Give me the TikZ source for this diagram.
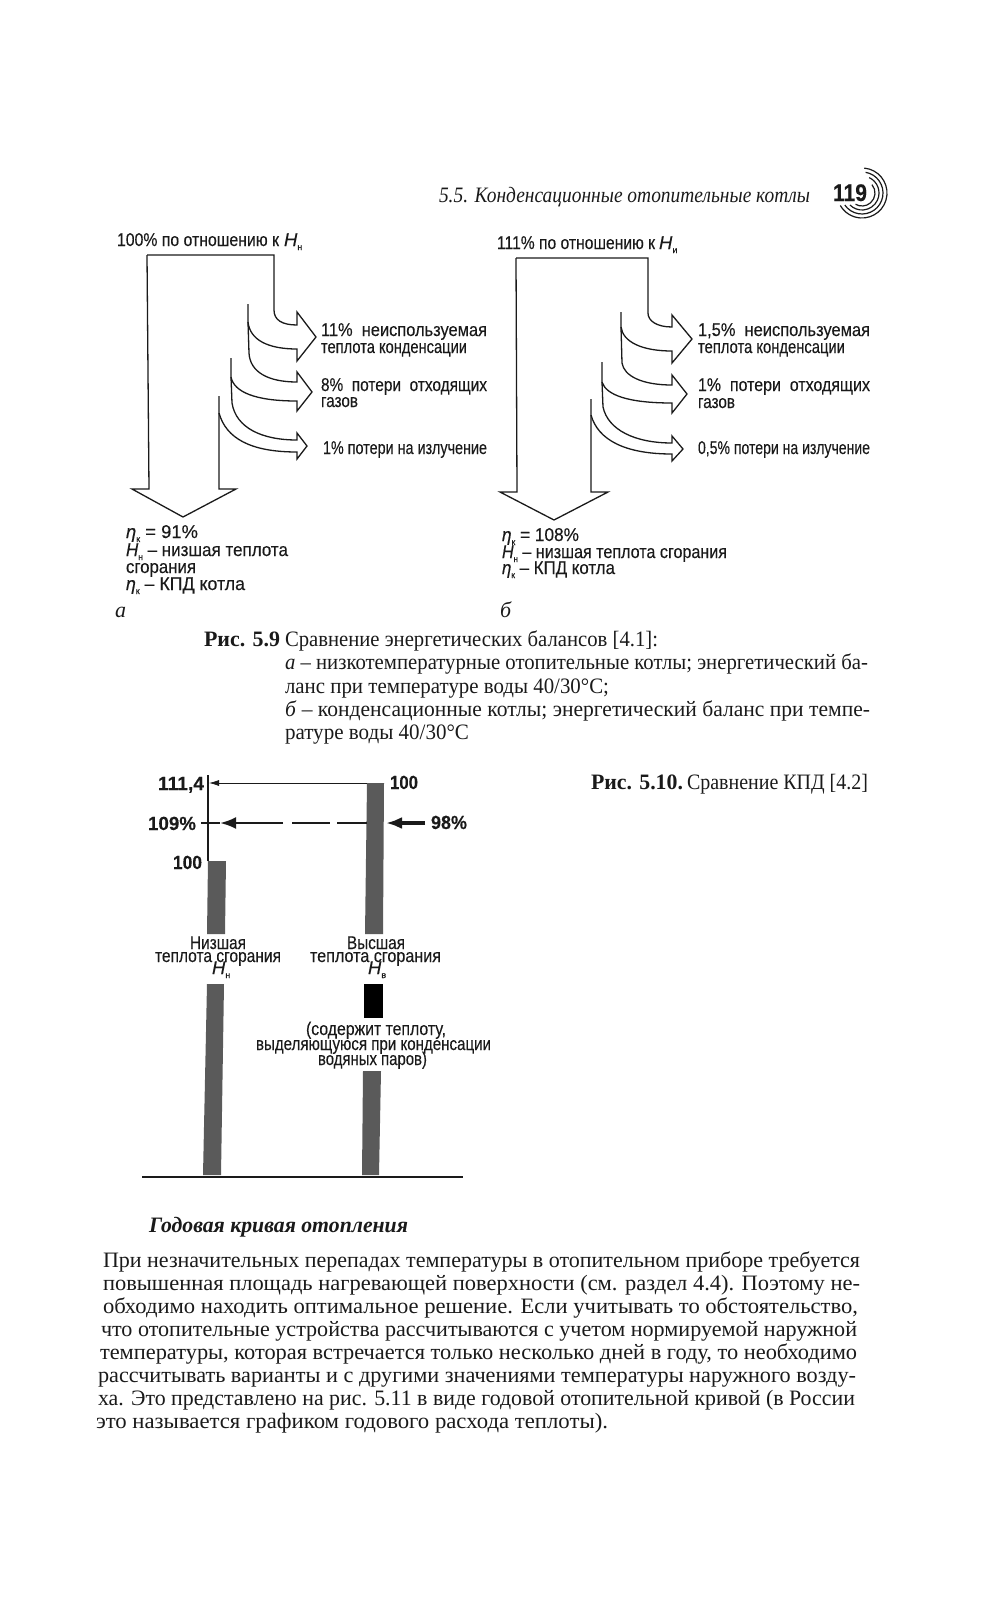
\documentclass[tikz,border=0pt]{standalone}
\usepackage{fontspec}
\usepackage{graphicx}
\usepackage{xcolor}
\usetikzlibrary{arrows.meta}
\setmainfont{Liberation Serif}
\newfontfamily\labelfont[FakeBold=0.25]{Liberation Sans}
\definecolor{barfill}{HTML}{5a5a5a}
\definecolor{inkdark}{HTML}{1a1a1a}
\newcommand{\fitline}[2]{\resizebox{#1pt}{\height}{#2}}
\newcommand{\subidx}[2]{\textit{#1}\raisebox{-4pt}{\fontsize{9}{9}\selectfont #2}}
\tikzset{
  base/.style={inner sep=0pt, outer sep=0pt, anchor=base west, text=inkdark},
  bodytext/.style={base, font=\fontsize{22}{22}\selectfont},
  schemelabel/.style={base, font=\labelfont\fontsize{18.5}{18.5}\selectfont},
  barlabel/.style={base, font=\labelfont\bfseries\fontsize{19}{19}\selectfont},
  flowline/.style={draw=inkdark, line width=1.3pt, line join=miter},
  bar/.style={fill=barfill, draw=none},
}

\begin{document}
\begin{tikzpicture}[x=1pt, y=-1pt, >=Latex]
  \useasboundingbox (0,0) rectangle (980,1600);

  % ---------------- page head ----------------
  \node[bodytext] (head) at (439,202) {\fitline{371}{\itshape 5.5. Конденсационные отопительные котлы}};
  \node[barlabel, font=\labelfont\bfseries\fontsize{24}{24}\selectfont] (pageno) at (833,201) {\fitline{34}{119}};
  \foreach \r/\a/\b in {25/-85/150, 21/-80/145, 17/-65/135, 13/-40/120}
    \draw[inkdark, line width=1.2pt] ([shift={(\a:\r)}]862,193) arc[start angle=\a, end angle=\b, radius=\r];

  % ---------------- (a) balance at 40/30 ----------------
  \node[schemelabel] (atop) at (117,246) {\fitline{162}{100\% по отношению к}};
  \node[schemelabel] (atopH) at (284,246) {\subidx{H}{н}};
  \draw[flowline] (147,255) -- (274,255) -- (274,310) .. controls (274,320) and (282,325) .. (297,325)
    -- (297,312) -- (316,337) -- (297,361) -- (297,349) .. controls (268,349) and (250,340) .. (248,322) -- (248,304);
  \draw[flowline] (248,322) -- (249,353) .. controls (250,372) and (268,382) .. (297,382)
    -- (297,372) -- (312,392) -- (297,411) -- (297,401) .. controls (255,401) and (234,392) .. (231,377) -- (231,358);
  \draw[flowline] (231,377) -- (232,403) .. controls (236,428) and (262,440) .. (297,440)
    -- (297,433) -- (307,446) -- (297,459) -- (297,452) .. controls (250,452) and (226,438) .. (219,413) -- (219,396);
  \draw[flowline] (219,413) -- (219,489) -- (236,489) -- (183,517) -- (132,489) -- (149,489) -- (147,255);

  \node[schemelabel] (aloss1) at (321,336) {\fitline{166}{11\%\ \ неиспользуемая}};
  \node[schemelabel] (aloss1b) at (321,353) {\fitline{146}{теплота конденсации}};
  \node[schemelabel] (aloss2) at (321,391) {\fitline{166}{8\%\ \ потери\ \ отходящих}};
  \node[schemelabel] (aloss2b) at (321,407) {\fitline{37}{газов}};
  \node[schemelabel] (aloss3) at (323,454) {\fitline{164}{1\% потери на излучение}};

  \node[schemelabel] (aeta) at (126,538) {\fitline{72}{\subidx{η}{к} = 91\%}};
  \node[schemelabel] (aH) at (126,556) {\fitline{162}{\subidx{H}{н}\ – низшая теплота}};
  \node[schemelabel] (acomb) at (126,573) {\fitline{70}{сгорания}};
  \node[schemelabel] (akpd) at (126,590) {\fitline{119}{\subidx{η}{к}\ – КПД котла}};
  \node[bodytext, font=\itshape\fontsize{22}{22}\selectfont] (atag) at (115,617) {а};

  % ---------------- (b) balance for condensing ----------------
  \node[schemelabel] (btop) at (497,249) {\fitline{158}{111\% по отношению к}};
  \node[schemelabel] (btopH) at (659,249) {\subidx{H}{и}};
  \draw[flowline] (516,258) -- (648,258) -- (648,313) .. controls (648,321) and (657,327) .. (672,327)
    -- (672,315) -- (692,339) -- (672,363) -- (672,351) .. controls (642,351) and (623,342) .. (621,327) -- (621,312);
  \draw[flowline] (621,327) -- (622,363) .. controls (624,376) and (642,385) .. (672,385)
    -- (672,375) -- (687,394) -- (672,413) -- (672,403) .. controls (628,403) and (606,395) .. (602,382) -- (602,362);
  \draw[flowline] (602,382) -- (603,407) .. controls (608,430) and (635,443) .. (672,443)
    -- (672,436) -- (683,449) -- (672,461) -- (672,454) .. controls (625,454) and (598,440) .. (591,415) -- (591,399);
  \draw[flowline] (591,415) -- (591,492) -- (608,492) -- (554,520) -- (500,492) -- (517,492) -- (516,258);

  \node[schemelabel] (bloss1) at (698,336) {\fitline{172}{1,5\%\ \ неиспользуемая}};
  \node[schemelabel] (bloss1b) at (698,353) {\fitline{147}{теплота конденсации}};
  \node[schemelabel] (bloss2) at (698,391) {\fitline{172}{1\%\ \ потери\ \ отходящих}};
  \node[schemelabel] (bloss2b) at (698,408) {\fitline{37}{газов}};
  \node[schemelabel] (bloss3) at (698,454) {\fitline{172}{0,5\% потери на излучение}};

  \node[schemelabel] (beta) at (502,541) {\fitline{77}{\subidx{η}{к} = 108\%}};
  \node[schemelabel] (bH) at (502,558) {\fitline{225}{\subidx{H}{н}\ – низшая теплота сгорания}};
  \node[schemelabel] (bkpd) at (502,574) {\fitline{113}{\subidx{η}{к}\ – КПД котла}};
  \node[bodytext, font=\itshape\fontsize{22}{22}\selectfont] (btag) at (500,617) {б};

  % ---------------- caption 5.9 ----------------
  \node[bodytext, font=\bfseries\fontsize{22}{22}\selectfont] (capnine) at (204,646) {\fitline{76}{Рис. 5.9}};
  \node[bodytext] (capa) at (285,646) {\fitline{373}{Сравнение энергетических балансов [4.1]:}};
  \node[bodytext] (capb) at (285,669) {\fitline{583}{\textit{а} – низкотемпературные отопительные котлы; энергетический ба-}};
  \node[bodytext] (capc) at (285,693) {\fitline{324}{ланс при температуре воды 40/30°С;}};
  \node[bodytext] (capd) at (285,716) {\fitline{585}{\textit{б} – конденсационные котлы; энергетический баланс при темпе-}};
  \node[bodytext] (cape) at (285,739) {\fitline{184}{ратуре воды 40/30°С}};

  % ---------------- comparison bars ----------------
  \fill[bar] (208,861) -- (226,861) -- (225,934) -- (207,934) -- cycle;
  \fill[bar] (207,984) -- (224,984) -- (221,1175) -- (203,1175) -- cycle;
  \fill[bar] (367,783) -- (384,783) -- (383,934) -- (365,934) -- cycle;
  \fill[bar] (363,1071) -- (381,1071) -- (379,1175) -- (362,1175) -- cycle;
  \fill[black] (364,984) rectangle (383,1018);
  \draw[inkdark, line width=1.2pt] (208,775) -- (208,861);
  \draw[inkdark, line width=2pt] (142,1177) -- (463,1177);

  \coordinate (topL) at (209,783);
  \coordinate (topR) at (367,783);
  \coordinate (effL) at (220,823);
  \coordinate (effM) at (283,823);
  \coordinate (effA) at (292,823);
  \coordinate (effB) at (330,823);
  \coordinate (effC) at (337,823);
  \coordinate (effD) at (367,823);
  \coordinate (effE) at (386,823);
  \coordinate (effF) at (425,823);
  \coordinate (effG) at (201,823);
  \draw[inkdark, line width=0.8pt, -{Latex[length=10pt, width=6pt]}] (topR) -- (topL);
  \draw[inkdark, line width=2.6pt, -{Latex[length=16pt, width=12pt]}] (effM) -- (effL);
  \draw[inkdark, line width=1.2pt] (effA) -- (effB);
  \draw[inkdark, line width=1.2pt] (effC) -- (effD);
  \draw[inkdark, line width=1.2pt] (effL) -- (effG);
  \draw[inkdark, line width=3.4pt, -{Latex[length=16pt, width=12pt]}] (effF) -- (effE);

  \node[barlabel] (vtop) at (158,790) {\fitline{46}{111,4}};
  \node[barlabel] (vhund) at (390,789) {\fitline{28}{100}};
  \node[barlabel] (vnine) at (148,830) {\fitline{48}{109\%}};
  \node[barlabel] (veight) at (431,829) {\fitline{36}{98\%}};
  \node[barlabel] (vlow) at (173,869) {\fitline{29}{100}};

  \node[schemelabel] (lowa) at (190,949) {\fitline{56}{Низшая}};
  \node[schemelabel] (lowb) at (155,962) {\fitline{126}{теплота сгорания}};
  \node[schemelabel] (lowH) at (212,974) {\subidx{H}{н}};
  \node[schemelabel] (higha) at (347,949) {\fitline{58}{Высшая}};
  \node[schemelabel] (highb) at (310,962) {\fitline{131}{теплота сгорания}};
  \node[schemelabel] (highH) at (368,974) {\subidx{H}{в}};
  \node[schemelabel] (notea) at (306,1035) {\fitline{140}{(содержит теплоту,}};
  \node[schemelabel] (noteb) at (256,1050) {\fitline{235}{выделяющуюся при конденсации}};
  \node[schemelabel] (notec) at (318,1065) {\fitline{109}{водяных паров)}};

  \node[bodytext, font=\bfseries\fontsize{22}{22}\selectfont] (capten) at (591,789) {\fitline{92}{Рис. 5.10.}};
  \node[bodytext] (captext) at (687,789) {\fitline{181}{Сравнение КПД [4.2]}};

  % ---------------- running text ----------------
  \node[bodytext, font=\bfseries\itshape\fontsize{22}{22}\selectfont] (section) at (149,1232) {\fitline{259}{Годовая кривая отопления}};
  \node[bodytext] (linea) at (103,1267) {\fitline{757}{При незначительных перепадах температуры в отопительном приборе требуется}};
  \node[bodytext] (lineb) at (103,1290) {\fitline{757}{повышенная площадь нагревающей поверхности (см. раздел 4.4). Поэтому не-}};
  \node[bodytext] (linec) at (103,1313) {\fitline{755}{обходимо находить оптимальное решение. Если учитывать то обстоятельство,}};
  \node[bodytext] (lined) at (101,1336) {\fitline{756}{что отопительные устройства рассчитываются с учетом нормируемой наружной}};
  \node[bodytext] (linee) at (100,1359) {\fitline{757}{температуры, которая встречается только несколько дней в году, то необходимо}};
  \node[bodytext] (linef) at (98,1382) {\fitline{758}{рассчитывать варианты и с другими значениями температуры наружного возду-}};
  \node[bodytext] (lineg) at (98,1405) {\fitline{757}{ха. Это представлено на рис. 5.11 в виде годовой отопительной кривой (в России}};
  \node[bodytext] (lineh) at (96,1428) {\fitline{512}{это называется графиком годового расхода теплоты).}};
\end{tikzpicture}
\end{document}
